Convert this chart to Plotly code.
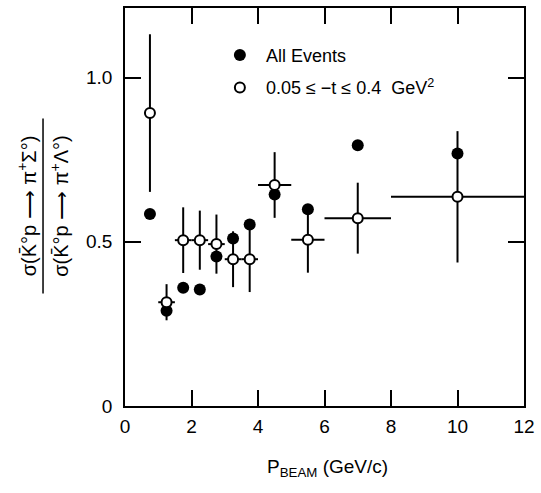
import plotly.graph_objects as go

# Data
p_beam = [0.75, 1.25, 1.75, 2.25, 2.75, 3.25, 3.75, 4.5, 5.5, 7.0, 10.0]
ratio_all = [0.585, 0.29, 0.36, 0.355, 0.455, 0.51, 0.553, 0.644, 0.599, 0.794, 0.769]
ratio_tcut = [0.892, 0.316, 0.505, 0.505, 0.493, 0.447, 0.447, 0.673, 0.506, 0.572, 0.637]
ratio_tcut_err = [0.24, 0.055, 0.10, 0.09, 0.09, 0.085, 0.10, 0.10, 0.10, 0.108, 0.20]
bin_halfwidth = [0, 0.25, 0.25, 0.25, 0.25, 0.25, 0.25, 0.5, 0.5, 1.0, 2.0]

x_ticks = [0, 2, 4, 6, 8, 10, 12]
y_ticks = [0, 0.5, 1.0]
y_ticktext = ["0", "0.5", "1.0"]

FONT = "Liberation Sans"

fig = go.Figure()
fig.add_trace(go.Scatter(
    x=p_beam, y=ratio_all, mode="markers", name="All Events",
    marker=dict(symbol="circle", size=12, color="black"),
    legendgroup="a",
))
fig.add_trace(go.Scatter(
    x=p_beam, y=ratio_tcut, mode="markers",
    name="0.05 ≤ −t ≤ 0.4  GeV<sup>2</sup>",
    marker=dict(symbol="circle", size=10, color="white",
                line=dict(color="black", width=2)),
    error_y=dict(type="data", array=ratio_tcut_err, color="black", thickness=2, width=0),
    error_x=dict(type="data", array=bin_halfwidth, color="black", thickness=2, width=0),
    legendgroup="b",
))

W, H = 541, 493
L, R, T, B = 125, 12, 6, 87
pw, ph = W - L - R, H - T - B

def px(xp):
    return (xp - L) / pw

def py(yp):
    return (H - B - yp) / ph

axis_common = dict(
    showline=True, linecolor="black", linewidth=1.5, mirror="ticks",
    ticks="inside", ticklen=16, tickwidth=1.5, tickcolor="black",
    showgrid=False, zeroline=False,
    tickfont=dict(family=FONT, size=19, color="black"),
)

fig.update_xaxes(range=[0, 12], tickvals=x_ticks, ticklabelstandoff=2, **axis_common)
fig.update_yaxes(range=[0, 1.212], tickvals=y_ticks, ticktext=y_ticktext,
                 ticklabelstandoff=7, **axis_common)

fig.update_layout(
    width=W, height=H,
    margin=dict(l=L, r=R, t=T, b=B),
    paper_bgcolor="white", plot_bgcolor="white",
    font=dict(family=FONT, color="black"),
    showlegend=True,
    legend=dict(
        x=px(215), y=py(35), xanchor="left", yanchor="top",
        bgcolor="rgba(0,0,0,0)", borderwidth=0,
        font=dict(family=FONT, size=18, color="black"),
        tracegroupgap=6, traceorder="grouped", itemwidth=42,
    ),
)

# x-axis title
fig.add_annotation(
    text="P<sub>BEAM</sub> (GeV/c)", xref="paper", yref="paper",
    x=px(330), y=py(468), showarrow=False, xanchor="center", yanchor="middle",
    font=dict(family=FONT, size=19, color="black"),
)

# y-axis title as a rotated fraction
fig.add_annotation(
    text="σ(K\u0304°p ⟶ π<sup>+</sup>Σ°)", xref="paper", yref="paper",
    x=px(25), y=py(205), showarrow=False, textangle=-90,
    xanchor="center", yanchor="middle",
    font=dict(family=FONT, size=20, color="black"),
)
fig.add_annotation(
    text="σ(K\u0304°p ⟶ π<sup>+</sup>Λ°)", xref="paper", yref="paper",
    x=px(58), y=py(205), showarrow=False, textangle=-90,
    xanchor="center", yanchor="middle",
    font=dict(family=FONT, size=20, color="black"),
)
fig.add_shape(
    type="line", xref="paper", yref="paper",
    x0=px(42), x1=px(42), y0=py(293), y1=py(117),
    line=dict(color="black", width=1.5),
)

fig.write_html("out.html")
